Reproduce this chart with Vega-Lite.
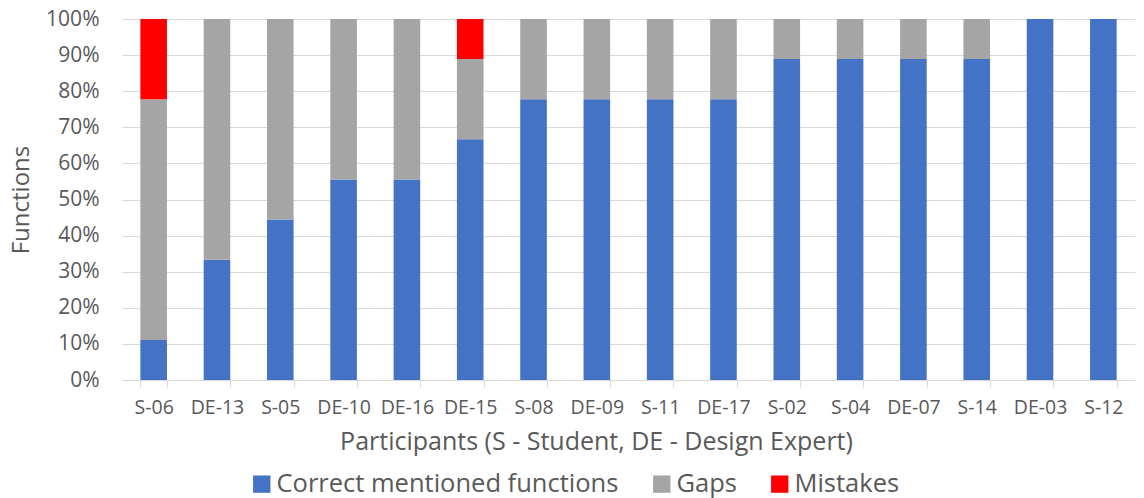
{
  "$schema": "https://vega.github.io/schema/vega-lite/v6.json",
  "width": 1013,
  "height": 361,
  "autosize": {"type": "none"},
  "padding": {"left": 122, "right": 9, "top": 19, "bottom": 118},
  "config": {
    "view": {"stroke": null},
    "font": "Open Sans",
    "axis": {"labelFont": "Open Sans", "titleFont": "Open Sans", "labelColor": "#595959", "titleColor": "#595959"},
    "legend": {"labelFont": "Open Sans"}
  },
  "data": {
    "values": [
      {"participant": "S-06", "category": "Correct mentioned functions", "k": 1, "count": 1},
      {"participant": "S-06", "category": "Gaps", "k": 2, "count": 6},
      {"participant": "S-06", "category": "Mistakes", "k": 3, "count": 2},
      {"participant": "DE-13", "category": "Correct mentioned functions", "k": 1, "count": 3},
      {"participant": "DE-13", "category": "Gaps", "k": 2, "count": 6},
      {"participant": "S-05", "category": "Correct mentioned functions", "k": 1, "count": 4},
      {"participant": "S-05", "category": "Gaps", "k": 2, "count": 5},
      {"participant": "DE-10", "category": "Correct mentioned functions", "k": 1, "count": 5},
      {"participant": "DE-10", "category": "Gaps", "k": 2, "count": 4},
      {"participant": "DE-16", "category": "Correct mentioned functions", "k": 1, "count": 5},
      {"participant": "DE-16", "category": "Gaps", "k": 2, "count": 4},
      {"participant": "DE-15", "category": "Correct mentioned functions", "k": 1, "count": 6},
      {"participant": "DE-15", "category": "Gaps", "k": 2, "count": 2},
      {"participant": "DE-15", "category": "Mistakes", "k": 3, "count": 1},
      {"participant": "S-08", "category": "Correct mentioned functions", "k": 1, "count": 7},
      {"participant": "S-08", "category": "Gaps", "k": 2, "count": 2},
      {"participant": "DE-09", "category": "Correct mentioned functions", "k": 1, "count": 7},
      {"participant": "DE-09", "category": "Gaps", "k": 2, "count": 2},
      {"participant": "S-11", "category": "Correct mentioned functions", "k": 1, "count": 7},
      {"participant": "S-11", "category": "Gaps", "k": 2, "count": 2},
      {"participant": "DE-17", "category": "Correct mentioned functions", "k": 1, "count": 7},
      {"participant": "DE-17", "category": "Gaps", "k": 2, "count": 2},
      {"participant": "S-02", "category": "Correct mentioned functions", "k": 1, "count": 8},
      {"participant": "S-02", "category": "Gaps", "k": 2, "count": 1},
      {"participant": "S-04", "category": "Correct mentioned functions", "k": 1, "count": 8},
      {"participant": "S-04", "category": "Gaps", "k": 2, "count": 1},
      {"participant": "DE-07", "category": "Correct mentioned functions", "k": 1, "count": 8},
      {"participant": "DE-07", "category": "Gaps", "k": 2, "count": 1},
      {"participant": "S-14", "category": "Correct mentioned functions", "k": 1, "count": 8},
      {"participant": "S-14", "category": "Gaps", "k": 2, "count": 1},
      {"participant": "DE-03", "category": "Correct mentioned functions", "k": 1, "count": 9},
      {"participant": "S-12", "category": "Correct mentioned functions", "k": 1, "count": 9}
    ]
  },
  "mark": {"type": "bar"},
  "encoding": {
    "x": {
      "field": "participant",
      "type": "nominal",
      "sort": ["S-06", "DE-13", "S-05", "DE-10", "DE-16", "DE-15", "S-08", "DE-09", "S-11", "DE-17", "S-02", "S-04", "DE-07", "S-14", "DE-03", "S-12"],
      "scale": {"paddingInner": 0.58, "paddingOuter": 0.29},
      "title": "Participants (S - Student, DE - Design Expert)",
      "axis": {
        "labelAngle": 0,
        "labelFontSize": 19.5,
        "labelPadding": 11,
        "titleFontSize": 25,
        "titleFontWeight": "normal",
        "titlePadding": 13,
        "titleX": 474,
        "domainColor": "#d9d9d9",
        "tickColor": "#d9d9d9",
        "tickSize": 7,
        "tickBand": "extent"
      }
    },
    "y": {
      "field": "count",
      "type": "quantitative",
      "stack": "normalize",
      "title": "Functions",
      "axis": {
        "format": ".0%",
        "values": [0, 0.1, 0.2, 0.3, 0.4, 0.5, 0.6, 0.7, 0.8, 0.9, 1],
        "labelOverlap": false,
        "labelFontSize": 21,
        "labelPadding": 23,
        "titleFontSize": 24,
        "titleFontWeight": "normal",
        "titlePadding": 12,
        "domain": false,
        "ticks": false,
        "gridColor": "#d9d9d9"
      }
    },
    "color": {
      "field": "category",
      "type": "nominal",
      "scale": {
        "domain": ["Correct mentioned functions", "Gaps", "Mistakes"],
        "range": ["#4472C4", "#A5A5A5", "#FF0000"]
      },
      "legend": {
        "orient": "none",
        "legendX": 127,
        "legendY": 452,
        "direction": "horizontal",
        "title": null,
        "symbolType": "square",
        "symbolSize": 300,
        "symbolStrokeWidth": 0,
        "labelFontSize": 25.5,
        "labelLimit": 500,
        "labelColor": "#595959",
        "labelOffset": 2,
        "columnPadding": 30
      }
    },
    "order": {"field": "k", "type": "quantitative"}
  }
}
